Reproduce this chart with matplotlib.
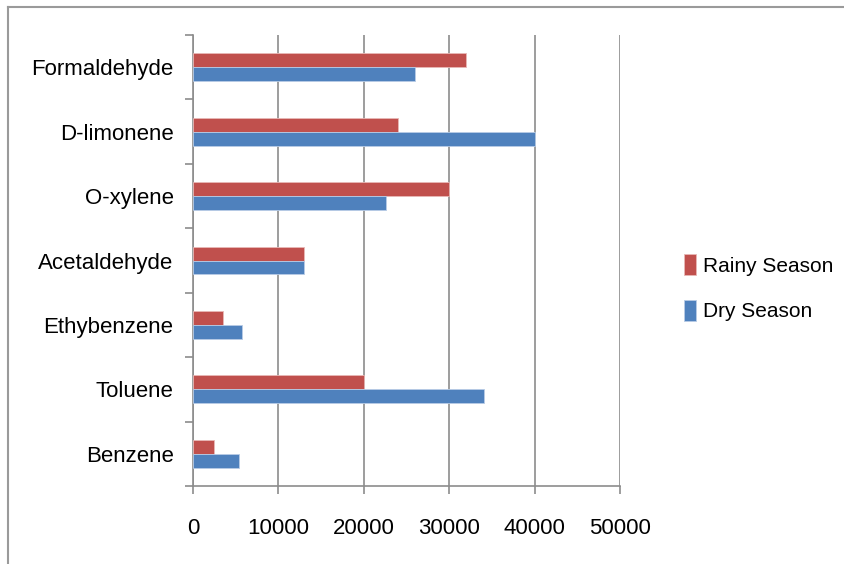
import matplotlib.pyplot as plt
from matplotlib.lines import Line2D
import numpy as np

plt.rcParams['font.family'] = ['Liberation Sans', 'DejaVu Sans']

compounds = ["Benzene", "Toluene", "Ethybenzene", "Acetaldehyde",
             "O-xylene", "D-limonene", "Formaldehyde"]
rainy = [2400, 20000, 3550, 13000, 30000, 23950, 32000]
dry = [5400, 34100, 5750, 13000, 22600, 40000, 26000]

red = "#C0504D"
blue = "#4F81BD"
grid_col = "#8C8C8C"

fig = plt.figure(figsize=(8.44, 5.64), dpi=100)
ax = fig.add_axes([0.2287, 0.1383, 0.5059, 0.7996])

# chart border: only the top and left edges show
fig.lines.append(Line2D([0.0095, 1.0], [0.988, 0.988], transform=fig.transFigure,
                        color="#9A9A9A", linewidth=1.5))
fig.lines.append(Line2D([0.0095, 0.0095], [0.0, 0.988], transform=fig.transFigure,
                        color="#9A9A9A", linewidth=1.5))

y = np.arange(len(compounds))
h = 0.217
ax.barh(y + h / 2, rainy, height=h, color=red, edgecolor="#E8B8B6",
        linewidth=0.6, label="Rainy Season", zorder=3)
ax.barh(y - h / 2, dry, height=h, color=blue, edgecolor="#B8CCE6",
        linewidth=0.6, label="Dry Season", zorder=3)

ax.set_xlim(0, 50000)
ax.set_ylim(-0.5, len(compounds) - 0.5)
ax.set_xticks(np.arange(0, 50001, 10000))
ax.tick_params(axis="x", length=6, width=1.2, color=grid_col, pad=17, labelsize=16)

# category boundaries carry the tick marks, names sit between them
ax.set_yticks(np.arange(-0.5, len(compounds), 1))
ax.set_yticklabels([])
ax.set_yticks(y, minor=True)
ax.set_yticklabels(compounds, minor=True, fontsize=16)
ax.tick_params(axis="y", which="major", length=6, width=1.2, color=grid_col)
ax.tick_params(axis="y", which="minor", length=0, pad=14)

ax.grid(axis="x", color=grid_col, linewidth=1.2, zorder=0)
for side in ["top", "right"]:
    ax.spines[side].set_visible(False)
for side in ["left", "bottom"]:
    ax.spines[side].set_color(grid_col)
    ax.spines[side].set_linewidth(1.2)

ax.legend(loc="center left", bbox_to_anchor=(1.105, 0.44), frameon=False,
          fontsize=15, handlelength=0.6, handleheight=1.2, handletextpad=0.35,
          labelspacing=1.15)

fig.savefig("out.png", dpi=100)
